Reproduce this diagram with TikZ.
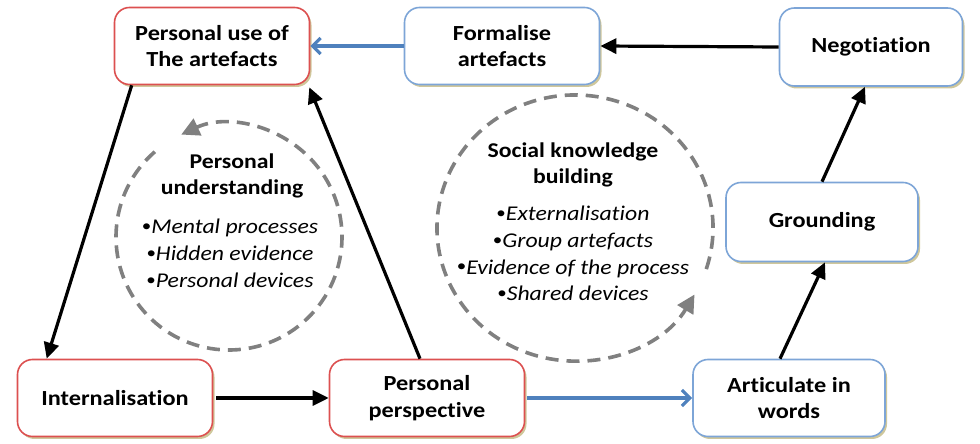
\documentclass[tikz,border=0pt]{standalone}
\usepackage{fontspec}
\usepackage{graphicx}
\setmainfont{Carlito}[Ligatures={NoCommon}, FakeStretch=1.13]
\usetikzlibrary{arrows.meta,calc,shadows}
\definecolor{redb}{RGB}{220,80,80}
\definecolor{blueb}{RGB}{125,165,215}
\definecolor{bluea}{RGB}{79,129,189}
\definecolor{shad}{RGB}{195,185,130}
\definecolor{grayd}{RGB}{128,128,128}
\newcommand{\smbul}{{\upshape\raisebox{0.22ex}{\scalebox{0.8}{\textbullet}}}}
\tikzset{
  box/.style={draw, line width=1.6pt, rounded corners=15pt, fill=white,
    align=center, font=\fontsize{21.5}{26.5}\selectfont\bfseries,
    drop shadow={shadow xshift=2pt, shadow yshift=-2.5pt, fill=shad, opacity=0.8}},
  redbox/.style={box, draw=redb, minimum width=195pt, minimum height=77pt},
  bluebox/.style={box, draw=blueb, minimum width=190pt, minimum height=77pt},
  blk/.style={line width=3.2pt, -{Triangle[length=16pt,width=15pt]}},
  blu/.style={line width=3.2pt, draw=bluea, -{Straight Barb[length=8pt,width=16pt,line width=3.2pt]}},
  circ/.style={draw=grayd, line width=3.6pt, dash pattern=on 13pt off 8pt},
  circtip/.style={-{Triangle[length=18pt,width=18pt]}},
  head/.style={align=center, font=\fontsize{21}{26}\selectfont\bfseries},
  items/.style={align=center, font=\fontsize{21}{26.8}\selectfont\itshape}
}
\begin{document}
\begin{tikzpicture}[x=1pt,y=1pt]
\useasboundingbox (0,0) rectangle (980,444);
% boxes
\node[redbox] (use) at (212,398) {Personal use of\\The artefacts};
\node[bluebox, minimum width=195pt] (form) at (502,398) {Formalise\\artefacts};
\node[bluebox, minimum width=183pt, minimum height=78pt] (neg) at (871,397) {Negotiation};
\node[bluebox, minimum width=192pt, minimum height=79pt] (ground) at (822,222) {Grounding};
\node[bluebox, minimum width=192pt] (art) at (789,46) {Articulate in\\words};
\node[redbox] (persp) at (427,46) {Personal\\perspective};
\node[redbox] (intern) at (115,46) {Internalisation};
% circles
\coordinate (lc) at (229,207);
\coordinate (rc) at (575,216);
\draw[circ, circtip] ($(lc)+(131:113)$) arc[start angle=131, end angle=475, radius=113];
\draw[circ, circtip] ($(rc)+({138*cos(-18)},{133*sin(-18)})$) arc[start angle=-18, end angle=330, x radius=138, y radius=133];
\node[head] (h1) at (232,268.5) {Personal\\understanding};
\node[items] (i1) at (230,190.5) {\smbul Mental processes\\\smbul Hidden evidence\\\smbul Personal devices};
\node[head] (h2) at (573,279) {Social knowledge\\building};
\node[items] (i2) at (573,190.5) {\smbul Externalisation\\\smbul Group artefacts\\\smbul Evidence of the process\\\smbul Shared devices};
% connectors
\draw[blk] (neg.west) -- (form.east);
\draw[blu] (form.west) -- (use.east);
\draw[blk] ($(use.south west)+(18,0)$) -- ($(intern.north west)+(30,0)$);
\draw[blk] ($(intern.east)+(3,0)$) -- (persp.west);
\draw[blk] ($(persp.north)+(-7,0)$) -- ($(use.south east)+(-1,-2)$);
\draw[blu] ($(persp.east)+(2,0)$) -- (art.west);
\draw[blk] ($(art.north)+(-9,0)$) -- ($(ground.south)+(3,0)$);
\draw[blk] (ground.north) -- ($(neg.south)+(-6,0)$);
\end{tikzpicture}
\end{document}
